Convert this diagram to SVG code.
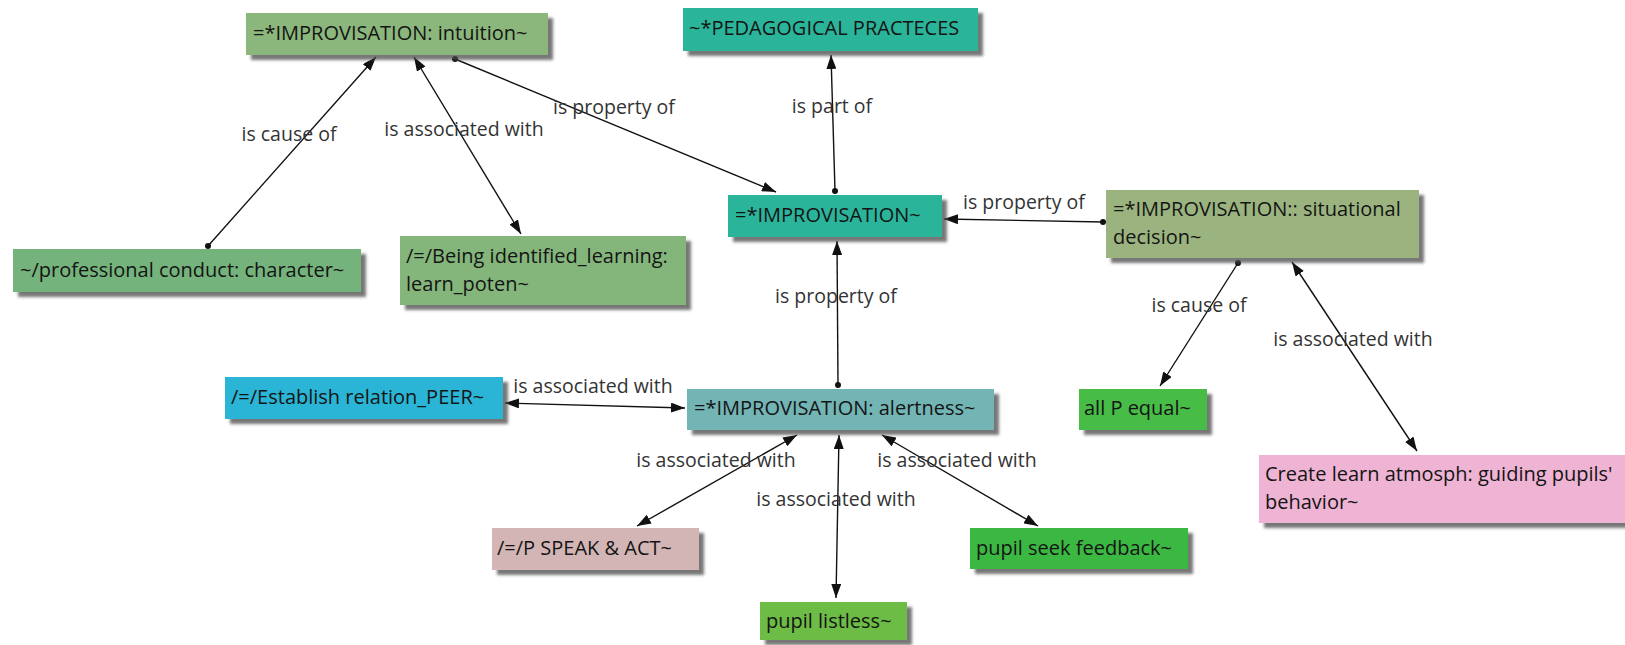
<svg xmlns="http://www.w3.org/2000/svg" width="1625" height="645" viewBox="0 0 1625 645">
  <style>
    .node text { font-family: "Open Sans", "Noto Sans", sans-serif; font-size: 20px; fill: #141414; }
    .box { filter: url(#shadow); }
    .edge { stroke: #111; stroke-width: 1.4; fill: none; }
    .lbl { font-family: "Open Sans", "Noto Sans", sans-serif; font-size: 19.5px; fill: #333; text-anchor: middle; }
    .dot { fill: #111; }
  </style>
  <defs>
    <filter id="shadow" x="-5%" y="-10%" width="115%" height="140%">
      <feDropShadow dx="5" dy="5" stdDeviation="1.5" flood-color="#4a4a4a" flood-opacity="0.75"/>
    </filter>
    <marker id="arr" viewBox="0 0 14 10" refX="14" refY="5" markerWidth="14" markerHeight="10" markerUnits="userSpaceOnUse" orient="auto-start-reverse">
      <path d="M0,0 L14,5 L0,10 Z" fill="#111"/>
    </marker>
  </defs>

  <rect width="1625" height="645" fill="#ffffff"/>

  <!-- connectors -->
  <g id="connectors">
    <line class="edge" x1="208" y1="246" x2="376" y2="57" marker-end="url(#arr)"/>
    <circle class="dot" cx="208" cy="246" r="3"/>

    <line class="edge" x1="414" y1="57" x2="521" y2="234" marker-start="url(#arr)" marker-end="url(#arr)"/>

    <line class="edge" x1="455" y1="59" x2="776" y2="192" marker-end="url(#arr)"/>
    <circle class="dot" cx="455" cy="59" r="3"/>

    <line class="edge" x1="835" y1="191" x2="831" y2="55" marker-end="url(#arr)"/>
    <circle class="dot" cx="835" cy="191" r="3"/>

    <line class="edge" x1="1103" y1="222" x2="944" y2="219" marker-end="url(#arr)"/>
    <circle class="dot" cx="1103" cy="222" r="3"/>

    <line class="edge" x1="838" y1="385" x2="837" y2="241" marker-end="url(#arr)"/>
    <circle class="dot" cx="838" cy="385" r="3"/>

    <line class="edge" x1="1238" y1="263" x2="1160" y2="386" marker-end="url(#arr)"/>
    <circle class="dot" cx="1238" cy="263" r="3"/>

    <line class="edge" x1="1292" y1="262" x2="1417" y2="451" marker-start="url(#arr)" marker-end="url(#arr)"/>

    <line class="edge" x1="505" y1="403" x2="685" y2="408" marker-start="url(#arr)" marker-end="url(#arr)"/>

    <line class="edge" x1="797" y1="435" x2="637" y2="526" marker-start="url(#arr)" marker-end="url(#arr)"/>

    <line class="edge" x1="839" y1="435" x2="836" y2="598" marker-start="url(#arr)" marker-end="url(#arr)"/>

    <line class="edge" x1="882" y1="435" x2="1038" y2="526" marker-start="url(#arr)" marker-end="url(#arr)"/>

    <!-- relation labels -->
    <text class="lbl" x="289" y="141">is cause of</text>
    <text class="lbl" x="464" y="136">is associated with</text>
    <text class="lbl" x="614" y="114">is property of</text>
    <text class="lbl" x="832" y="113">is part of</text>
    <text class="lbl" x="1024" y="209">is property of</text>
    <text class="lbl" x="836" y="303">is property of</text>
    <text class="lbl" x="1199" y="312">is cause of</text>
    <text class="lbl" x="1353" y="346">is associated with</text>
    <text class="lbl" x="593" y="393">is associated with</text>
    <text class="lbl" x="716" y="467">is associated with</text>
    <text class="lbl" x="957" y="467">is associated with</text>
    <text class="lbl" x="836" y="506">is associated with</text>
  </g>

  <!-- concepts -->
  <g id="n-intuition" class="node">
    <rect class="box" x="246" y="13" width="302" height="42" fill="#8bb77b"/>
    <text x="253" y="40">=*IMPROVISATION: intuition~</text>
  </g>
  <g id="n-pedagogical" class="node">
    <rect class="box" x="683" y="8" width="295" height="43" fill="#2bb49a"/>
    <text x="689" y="35">~*PEDAGOGICAL PRACTECES</text>
  </g>
  <g id="n-improvisation" class="node">
    <rect class="box" x="728" y="195" width="214" height="42" fill="#2bb59b"/>
    <text x="735" y="222">=*IMPROVISATION~</text>
  </g>
  <g id="n-situational" class="node">
    <rect class="box" x="1106" y="190" width="313" height="68" fill="#9bb47f"/>
    <text x="1113" y="216">=*IMPROVISATION:: situational</text>
    <text x="1113" y="244">decision~</text>
  </g>
  <g id="n-professional" class="node">
    <rect class="box" x="13" y="249" width="348" height="43" fill="#74b37b"/>
    <text x="20" y="277">~/professional conduct: character~</text>
  </g>
  <g id="n-being" class="node">
    <rect class="box" x="400" y="236" width="286" height="69" fill="#84b67b"/>
    <text x="406" y="263">/=/Being identified_learning:</text>
    <text x="406" y="291">learn_poten~</text>
  </g>
  <g id="n-establish" class="node">
    <rect class="box" x="225" y="377" width="278" height="42" fill="#29b4d5"/>
    <text x="231" y="404">/=/Establish relation_PEER~</text>
  </g>
  <g id="n-alertness" class="node">
    <rect class="box" x="687" y="389" width="307" height="41" fill="#73b4b5"/>
    <text x="694" y="415">=*IMPROVISATION: alertness~</text>
  </g>
  <g id="n-allp" class="node">
    <rect class="box" x="1079" y="389" width="128" height="41" fill="#46bc46"/>
    <text x="1084" y="415">all P equal~</text>
  </g>
  <g id="n-create" class="node">
    <rect class="box" x="1259" y="455" width="372" height="68" fill="#efb3d3"/>
    <text x="1265" y="481">Create learn atmosph: guiding pupils'</text>
    <text x="1265" y="509">behavior~</text>
  </g>
  <g id="n-speak" class="node">
    <rect class="box" x="492" y="528" width="207" height="42" fill="#d3b5b6"/>
    <text x="497" y="555">/=/P SPEAK &amp; ACT~</text>
  </g>
  <g id="n-feedback" class="node">
    <rect class="box" x="970" y="528" width="218" height="41" fill="#3bb842"/>
    <text x="976" y="555">pupil seek feedback~</text>
  </g>
  <g id="n-listless" class="node">
    <rect class="box" x="760" y="602" width="147" height="38" fill="#6cbc45"/>
    <text x="766" y="628">pupil listless~</text>
  </g>
</svg>
